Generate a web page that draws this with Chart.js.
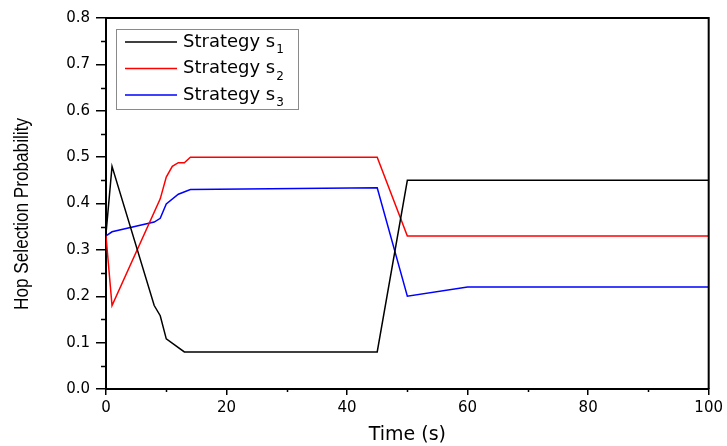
<!DOCTYPE html>
<html lang="en">
<head>
    <meta charset="UTF-8">
    <title>Hop Selection Probability</title>
    <style>
        html, body { margin: 0; padding: 0; background: #fff; }
        .graphic { width: 727px; height: 446px; }
    </style>
</head>
<body>
    <div class="graphic">
        <canvas id="hops" width="727" height="446"></canvas>
    </div>

    <script src="https://cdn.jsdelivr.net/npm/chart.js@4.4.0/dist/chart.umd.min.js"></script>
    <script>
        // values
        const s1Time = [0, 1, 8, 9, 10, 13, 45, 50, 100];
        const s1Prob = [0.335, 0.48, 0.18, 0.158, 0.108, 0.08, 0.08, 0.45, 0.45];

        const s2Time = [0, 1, 9, 10, 11, 12, 13, 14, 45, 50, 100];
        const s2Prob = [0.33, 0.18, 0.41, 0.457, 0.48, 0.488, 0.488, 0.5, 0.5, 0.33, 0.33];

        const s3Time = [0, 1, 8, 9, 10, 12, 14, 45, 50, 60, 100];
        const s3Prob = [0.33, 0.339, 0.36, 0.368, 0.399, 0.42, 0.43, 0.434, 0.2, 0.22, 0.22];

        const seriesNames = ['Strategy s', 'Strategy s', 'Strategy s'];
        const seriesSubs = ['1', '2', '3'];
        const seriesColors = ['#000000', '#ff0000', '#0000ff'];
        const yTitle = 'Hop Selection Probability';

        const toPoints = (t, v) => t.map((x, i) => ({ x: x, y: v[i] }));

        // minor ticks, frame, y title and legend box
        const extras = {
            id: 'extras',
            afterDraw(chart) {
                const ctx = chart.ctx;
                const a = chart.chartArea;
                const xs = chart.scales.x;
                const ys = chart.scales.y;
                ctx.save();
                ctx.strokeStyle = '#000';
                ctx.lineWidth = 1.5;
                ctx.beginPath();
                for (let v = 0.05; v < 0.8; v += 0.1) {
                    const py = Math.round(ys.getPixelForValue(v)) + 0.5;
                    ctx.moveTo(a.left - 5, py);
                    ctx.lineTo(a.left, py);
                }
                for (let v = 10; v < 100; v += 20) {
                    const px = Math.round(xs.getPixelForValue(v)) + 0.5;
                    ctx.moveTo(px, a.bottom);
                    ctx.lineTo(px, a.bottom + 3);
                }
                ctx.stroke();

                // top and right frame
                ctx.lineWidth = 2;
                ctx.beginPath();
                ctx.moveTo(a.left, a.top);
                ctx.lineTo(a.right, a.top);
                ctx.lineTo(a.right, a.bottom);
                ctx.stroke();

                // y title, narrow like the original
                ctx.save();
                ctx.translate(22, 214);
                ctx.rotate(-Math.PI / 2);
                ctx.font = '21px "Liberation Sans"';
                const tw = ctx.measureText(yTitle).width;
                ctx.scale(192 / tw, 1);
                ctx.fillStyle = '#000';
                ctx.textAlign = 'center';
                ctx.textBaseline = 'middle';
                ctx.fillText(yTitle, 0, 0);
                ctx.restore();

                // legend
                ctx.lineWidth = 1;
                ctx.strokeStyle = '#8a8a8a';
                ctx.strokeRect(116.5, 29.5, 182, 80);
                seriesNames.forEach((name, i) => {
                    const y = 42 + i * 26.5;
                    ctx.strokeStyle = seriesColors[i];
                    ctx.lineWidth = 1.5;
                    ctx.beginPath();
                    ctx.moveTo(125, y);
                    ctx.lineTo(177, y);
                    ctx.stroke();
                    ctx.fillStyle = '#000';
                    ctx.textBaseline = 'middle';
                    ctx.textAlign = 'left';
                    ctx.font = '18px "DejaVu Sans"';
                    ctx.fillText(name, 183, y);
                    const w = ctx.measureText(name).width;
                    ctx.font = '12px "DejaVu Sans"';
                    ctx.fillText(seriesSubs[i], 183 + w + 1, y + 8);
                });
                ctx.restore();
            }
        };

        const ctx = document.getElementById('hops');

        new Chart(ctx, {
            type: 'line',
            data: {
                datasets: [
                    { label: 'Strategy s1', data: toPoints(s1Time, s1Prob), borderColor: seriesColors[0] },
                    { label: 'Strategy s2', data: toPoints(s2Time, s2Prob), borderColor: seriesColors[1] },
                    { label: 'Strategy s3', data: toPoints(s3Time, s3Prob), borderColor: seriesColors[2] }
                ]
            },
            options: {
                responsive: false,
                animation: false,
                events: [],
                layout: { padding: { top: 18, right: 15, left: 0, bottom: 0 } },
                elements: {
                    line: { borderWidth: 1.5, tension: 0 },
                    point: { radius: 0 }
                },
                plugins: {
                    legend: { display: false },
                    tooltip: { enabled: false }
                },
                scales: {
                    x: {
                        type: 'linear',
                        min: 0,
                        max: 100,
                        ticks: {
                            stepSize: 20,
                            color: '#000',
                            font: { family: 'DejaVu Sans', size: 15 },
                            padding: 4,
                            maxRotation: 0
                        },
                        grid: { drawOnChartArea: false, tickLength: 6, color: '#000', lineWidth: 1.5 },
                        border: { color: '#000', width: 2 },
                        title: {
                            display: true,
                            text: 'Time (s)',
                            color: '#000',
                            font: { family: 'DejaVu Sans', size: 19 },
                            padding: { top: 6, bottom: 0 }
                        },
                        afterFit(scale) { scale.height = 57; }
                    },
                    y: {
                        min: 0,
                        max: 0.8,
                        ticks: {
                            stepSize: 0.1,
                            color: '#000',
                            font: { family: 'DejaVu Sans', size: 15 },
                            padding: 6,
                            callback: v => v.toFixed(1)
                        },
                        grid: { drawOnChartArea: false, tickLength: 10, color: '#000', lineWidth: 1.5 },
                        border: { color: '#000', width: 2 },
                        afterFit(scale) { scale.width = 106; }
                    }
                }
            },
            plugins: [extras]
        });
    </script>
</body>
</html>
